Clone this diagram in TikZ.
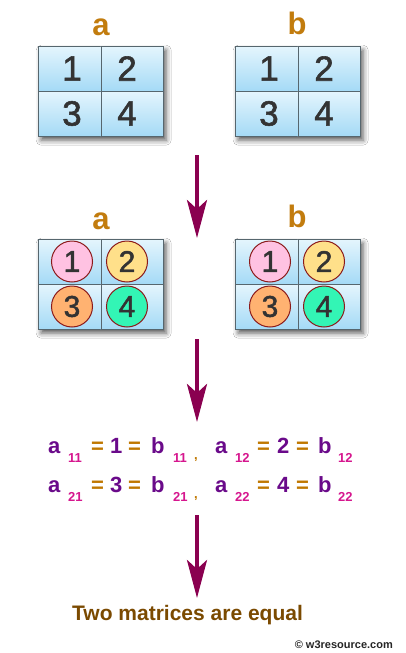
\documentclass[tikz,border=0pt]{standalone}
\usepackage{fontspec}
\setmainfont{Liberation Sans}
\newfontfamily\digitfont[FakeBold=1.6]{Liberation Sans}
\usetikzlibrary{arrows.meta,shadows.blur}
\definecolor{cellTop}{HTML}{E4F5FD}
\definecolor{cellBot}{HTML}{A4DAF6}
\definecolor{cellBorder}{HTML}{56666E}
\definecolor{labelC}{HTML}{C27C0E}
\definecolor{digitC}{HTML}{333333}
\definecolor{arrowC}{HTML}{8A0050}
\definecolor{purpleC}{HTML}{6A0A8A}
\definecolor{eqC}{HTML}{C07800}
\definecolor{subC}{HTML}{D6168E}
\definecolor{brownC}{HTML}{7B4A00}
\definecolor{circBorder}{HTML}{8B1A1A}
\definecolor{pinkC}{HTML}{FFC2E2}
\definecolor{yellowC}{HTML}{FFE08A}
\definecolor{orangeC}{HTML}{FFB271}
\definecolor{greenC}{HTML}{33F5B5}
\tikzset{
  matframe/.style={anchor=north west, minimum width=125pt, minimum height=90pt, inner sep=0pt, fill=white,
    blur shadow={shadow xshift=3pt, shadow yshift=-4pt, shadow blur radius=5pt, shadow opacity=65}},
  cellbox/.style={anchor=north west, draw=cellBorder, line width=0.8pt, top color=cellTop, bottom color=cellBot,
    minimum width=62.5pt, minimum height=45pt, inner sep=0pt},
  bigdigit/.style={text=digitC, font=\digitfont\fontsize{35}{35}\selectfont, inner sep=0pt},
  cdigit/.style={text=digitC, font=\digitfont\fontsize{30}{30}\selectfont, inner sep=0pt},
  disc/.style={circle, draw=circBorder, line width=1pt, minimum size=41pt, inner sep=0pt},
  matlabel/.style={anchor=base, text=labelC, font=\fontsize{31}{31}\selectfont\bfseries, inner sep=0pt},
  arr/.style={draw=arrowC, line width=4pt, -{Stealth[length=38pt, width=20pt, inset=9pt]}},
  big/.style={anchor=base west, inner sep=0pt, font=\fontsize{22}{22}\selectfont\bfseries},
  sub/.style={anchor=base west, inner sep=0pt, text=subC, font=\fontsize{13}{13}\selectfont\bfseries},
}
\newcommand{\mkmatrix}[3]{%
  \node[matframe] (#1) at (#2,#3) {};
  \node[cellbox] (#1-11) at (#2,#3) {};
  \node[cellbox] (#1-12) at (#2+62.5,#3) {};
  \node[cellbox] (#1-21) at (#2,#3+45) {};
  \node[cellbox] (#1-22) at (#2+62.5,#3+45) {};
}
\begin{document}
\begin{tikzpicture}[x=1pt,y=-1pt]
\useasboundingbox[fill=white] (0,0) rectangle (406,653);

% top matrices
\node[matlabel] (la1) at (101,35) {a};
\node[matlabel] (lb1) at (297,34) {b};
\mkmatrix{A}{38}{46}
\mkmatrix{B}{235}{46}
\node[bigdigit] (A1) at (72,68.5) {1};
\node[bigdigit] (A2) at (127,68.5) {2};
\node[bigdigit] (A3) at (72,113.5) {3};
\node[bigdigit] (A4) at (127,113.5) {4};
\node[bigdigit] (B1) at (269,68.5) {1};
\node[bigdigit] (B2) at (324,68.5) {2};
\node[bigdigit] (B3) at (269,113.5) {3};
\node[bigdigit] (B4) at (324,113.5) {4};

% second matrices
\node[matlabel] (la2) at (101,229) {a};
\node[matlabel] (lb2) at (297,227) {b};
\mkmatrix{C}{38}{239}
\mkmatrix{D}{235}{239}
\node[disc, fill=pinkC] (C1) at (72,261.5) {};
\node[disc, fill=yellowC] (C2) at (127,261.5) {};
\node[disc, fill=orangeC] (C3) at (72,306.5) {};
\node[disc, fill=greenC] (C4) at (127,306.5) {};
\node[disc, fill=pinkC] (D1) at (270,261.5) {};
\node[disc, fill=yellowC] (D2) at (324,261.5) {};
\node[disc, fill=orangeC] (D3) at (270,306.5) {};
\node[disc, fill=greenC] (D4) at (324,306.5) {};
\node[cdigit] (c1) at (C1) {1};
\node[cdigit] (c2) at (C2) {2};
\node[cdigit] (c3) at (C3) {3};
\node[cdigit] (c4) at (C4) {4};
\node[cdigit] (d1) at (D1) {1};
\node[cdigit] (d2) at (D2) {2};
\node[cdigit] (d3) at (D3) {3};
\node[cdigit] (d4) at (D4) {4};

% arrows
\coordinate (s1) at (197,155);
\coordinate (e1) at (197,238);
\coordinate (s2) at (197,339);
\coordinate (e2) at (197,422);
\coordinate (s3) at (197,515);
\coordinate (e3) at (197,598);
\draw[arr] (s1) -- (e1);
\draw[arr] (s2) -- (e2);
\draw[arr] (s3) -- (e3);

% equations row 1
\node[big, text=purpleC] (r1a) at (48,453) {a};
\node[sub] (r1s1) at (68,462) {11};
\node[big, text=eqC] (r1e1) at (91,453) {=};
\node[big, text=purpleC] (r1n) at (110,453) {1};
\node[big, text=eqC] (r1e2) at (128,453) {=};
\node[big, text=purpleC] (r1b) at (151,453) {b};
\node[sub] (r1s2) at (173,462) {11};
\node[sub, text=eqC] (r1c) at (194,459) {,};
\node[big, text=purpleC] (r1a2) at (215,453) {a};
\node[sub] (r1s3) at (235,462) {12};
\node[big, text=eqC] (r1e3) at (257,453) {=};
\node[big, text=purpleC] (r1n2) at (277,453) {2};
\node[big, text=eqC] (r1e4) at (296,453) {=};
\node[big, text=purpleC] (r1b2) at (318,453) {b};
\node[sub] (r1s4) at (338,462) {12};

% equations row 2
\node[big, text=purpleC] (r2a) at (48,492) {a};
\node[sub] (r2s1) at (68,501) {21};
\node[big, text=eqC] (r2e1) at (91,492) {=};
\node[big, text=purpleC] (r2n) at (110,492) {3};
\node[big, text=eqC] (r2e2) at (128,492) {=};
\node[big, text=purpleC] (r2b) at (151,492) {b};
\node[sub] (r2s2) at (173,501) {21};
\node[sub, text=eqC] (r2c) at (194,498) {,};
\node[big, text=purpleC] (r2a2) at (215,492) {a};
\node[sub] (r2s3) at (235,501) {22};
\node[big, text=eqC] (r2e3) at (257,492) {=};
\node[big, text=purpleC] (r2n2) at (277,492) {4};
\node[big, text=eqC] (r2e4) at (296,492) {=};
\node[big, text=purpleC] (r2b2) at (318,492) {b};
\node[sub] (r2s4) at (338,501) {22};

% conclusion
\node[anchor=base west, inner sep=0pt, text=brownC, font=\fontsize{21}{21}\selectfont\bfseries] (concl) at (72,620.5) {Two matrices are equal};
\node[anchor=base east, inner sep=0pt, text=black!85, font=\fontsize{11}{11}\selectfont\bfseries] (copy) at (393,648) {\textcopyright\ w3resource.com};
\end{tikzpicture}
\end{document}
